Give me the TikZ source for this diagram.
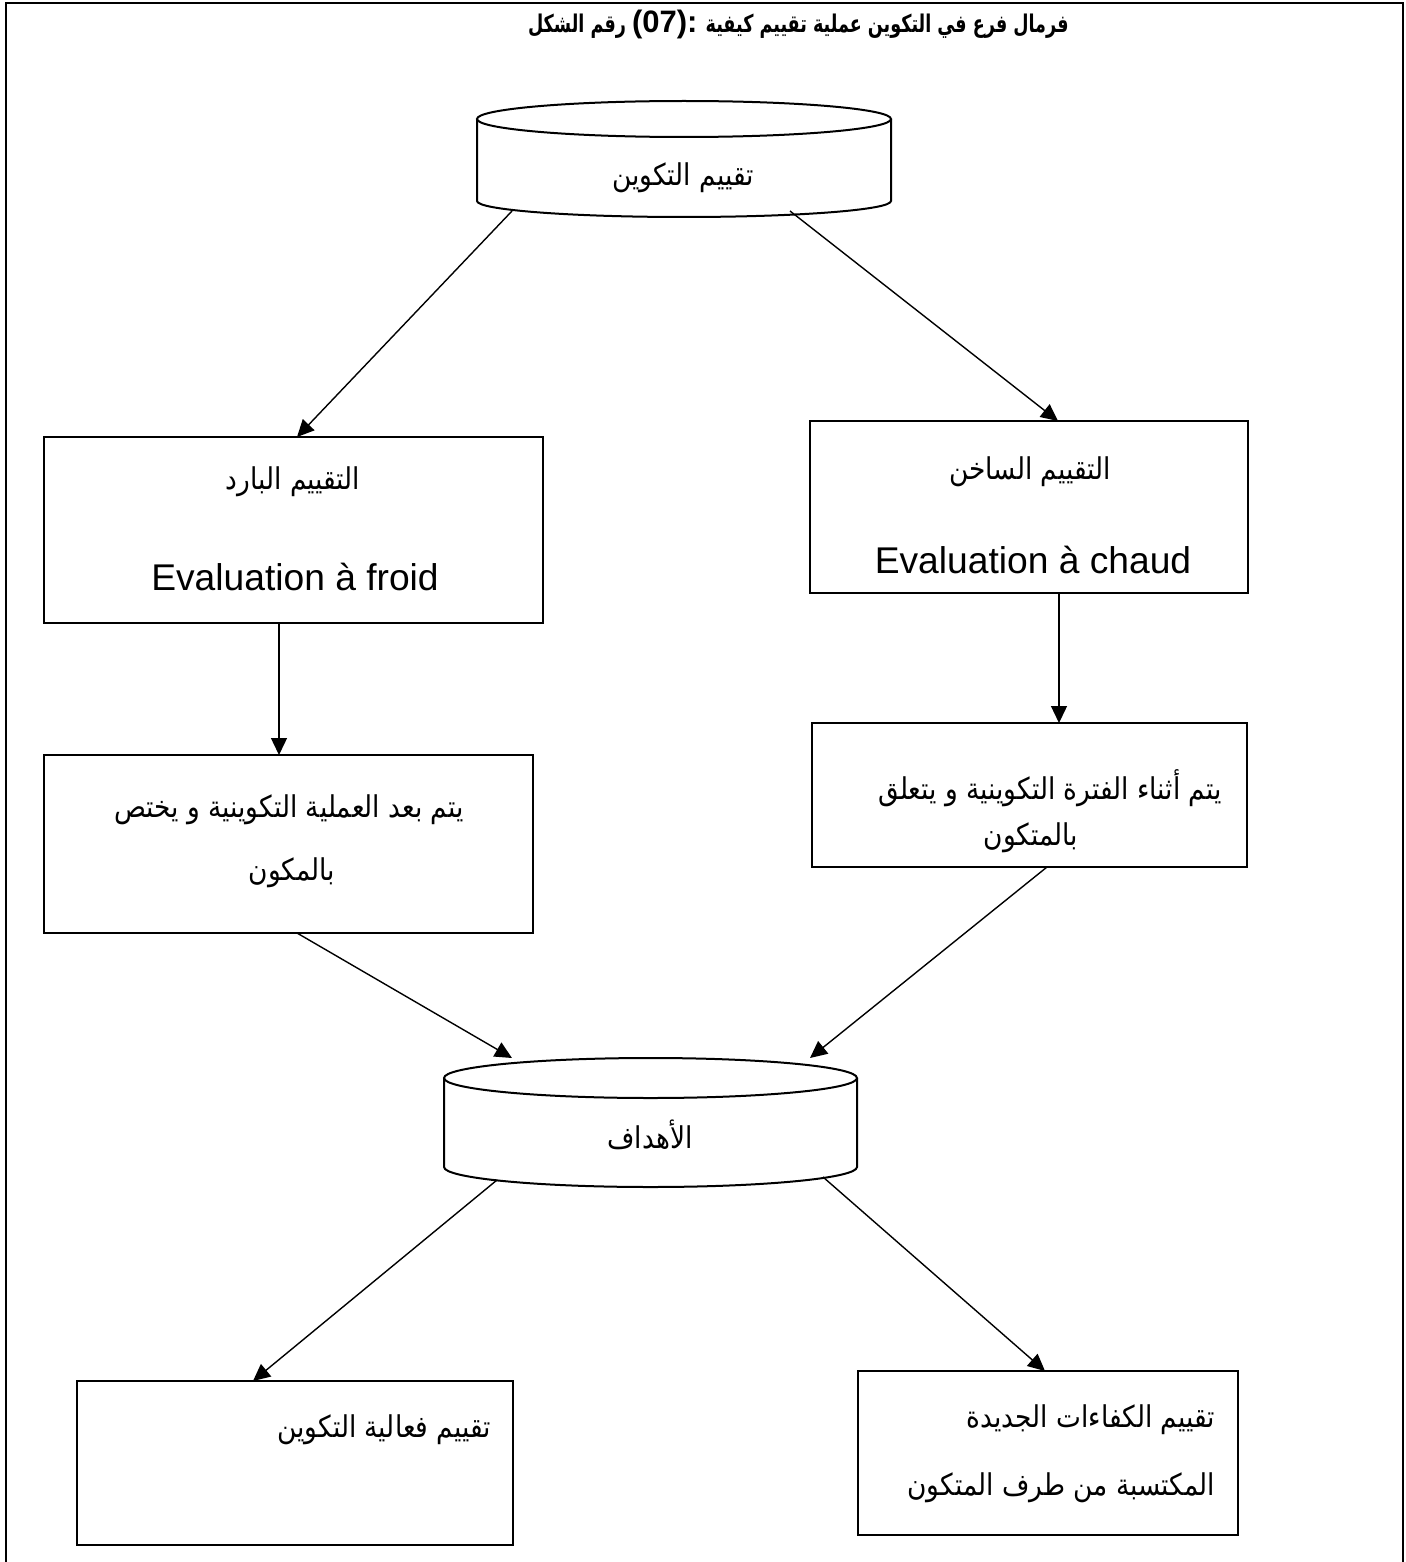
\documentclass[tikz,border=0pt]{standalone}
\usepackage{fontspec}
\setmainfont{Liberation Sans}
\newfontfamily\arabicfont[Script=Arabic,FakeStretch=0.88]{DejaVu Sans}
\newfontfamily\arabicbold[Script=Arabic,FakeStretch=0.72]{DejaVu Sans Bold}
\newfontfamily\latinbold{Liberation Sans Bold}
\TeXXeTstate=1
\usetikzlibrary{arrows.meta,calc,fit}

\begin{document}
\begin{tikzpicture}[x=0.5pt,y=-0.5pt,
  every node/.style={inner sep=0pt,outer sep=0pt},
  frame/.style={line width=1.2pt},
  boxline/.style={draw,line width=1pt},
  area/.style={inner sep=0pt,outer sep=0pt},
  ar/.style={font=\arabicfont\fontsize{15}{17}\selectfont},
  en/.style={font=\fontsize{18.6}{22}\selectfont},
  arr/.style={line width=0.7pt,-{Triangle[length=8.5pt,width=8pt]}}]

\useasboundingbox (0,0) rectangle (1405,1562);

% outer frame, open at the bottom
\draw[frame] (6,1562) -- (6,3) -- (1403,3) -- (1403,1562);

% title: the Arabic runs and the Latin number are set as separate runs
\node[anchor=west,font=\arabicbold\fontsize{12.2}{14}\selectfont] (title) at (528,24)
  {الشكل رقم {\latinbold\fontsize{15.5}{18}\selectfont (07):} كيفية تقييم عملية التكوين في فرع فرمال};

% top cylinder
\node[area,fit={(477,101)(891,217)}] (topcyl) {};
\draw[line width=1pt] (684,119) ellipse [x radius=207, y radius=18];
\draw[line width=1pt] (477,119) -- (477,201)
  arc[start angle=180, end angle=0, x radius=207, y radius=16] -- (891,119);
\node[ar] (toptxt) at (683,178) {\beginR تقييم التكوين\endR};

% first row of boxes
\node[boxline,fit={(44,437)(543,623)}] (l1) {};
\node[ar] (l1a) at (293,482) {\beginR التقييم البارد\endR};
\node[en] (l1b) at (295,577) {Evaluation à froid};

\node[boxline,fit={(810,421)(1248,593)}] (r1) {};
\node[ar] (r1a) at (1030,472) {\beginR التقييم الساخن\endR};
\node[en] (r1b) at (1033,560) {Evaluation à chaud};

% second row of boxes
\node[boxline,fit={(44,755)(533,933)}] (l2) {};
\node[ar] (l2a) at (289,810) {\beginR يتم بعد العملية التكوينية و يختص\endR};
\node[ar] (l2b) at (292,873) {\beginR بالمكون\endR};

\node[boxline,fit={(812,723)(1247,867)}] (r2) {};
\node[ar] (r2a) at (1050,788) {\beginR يتم أثناء الفترة التكوينية و يتعلق\endR};
\node[ar] (r2b) at (1031,838) {\beginR بالمتكون\endR};

% lower cylinder
\node[area,fit={(444,1058)(857,1187)}] (goals) {};
\draw[line width=1pt] (650.5,1078) ellipse [x radius=206.5, y radius=20];
\draw[line width=1pt] (444,1078) -- (444,1167)
  arc[start angle=180, end angle=0, x radius=206.5, y radius=20] -- (857,1078);
\node[ar] (goalstxt) at (650,1135) {\beginR الأهداف\endR};

% bottom boxes
\node[boxline,fit={(77,1381)(513,1545)}] (bl) {};
\node[ar,anchor=east] (bla) at (491,1430) {\beginR تقييم فعالية التكوين\endR};

\node[boxline,fit={(858,1371)(1238,1535)}] (br) {};
\node[ar,anchor=east] (bra) at (1215,1420) {\beginR تقييم الكفاءات الجديدة\endR};
\node[ar,anchor=east] (brb) at (1215,1488) {\beginR المكتسبة من طرف المتكون\endR};

% connectors
\draw[arr] ($(topcyl.south west)+(35,-6)$) -- ($(l1.north west)+(253,0)$);
\draw[arr] ($(topcyl.south east)+(-101,-6)$) -- ($(r1.north west)+(248,0)$);
\draw[arr] ($(l1.south west)+(235,0)$) -- ($(l2.north west)+(235,0)$);
\draw[arr] ($(r1.south west)+(249,0)$) -- ($(r2.north west)+(247,0)$);
\draw[arr] ($(l2.south west)+(253,0)$) -- ($(goals.north west)+(68,0)$);
\draw[arr] ($(r2.south west)+(235,0)$) -- ($(goals.north west)+(366,0)$);
\draw[arr] ($(goals.south west)+(53,-7)$) -- ($(bl.north west)+(176,0)$);
\draw[arr] ($(goals.south west)+(379,-10)$) -- ($(br.north west)+(187,0)$);

\end{tikzpicture}
\end{document}
